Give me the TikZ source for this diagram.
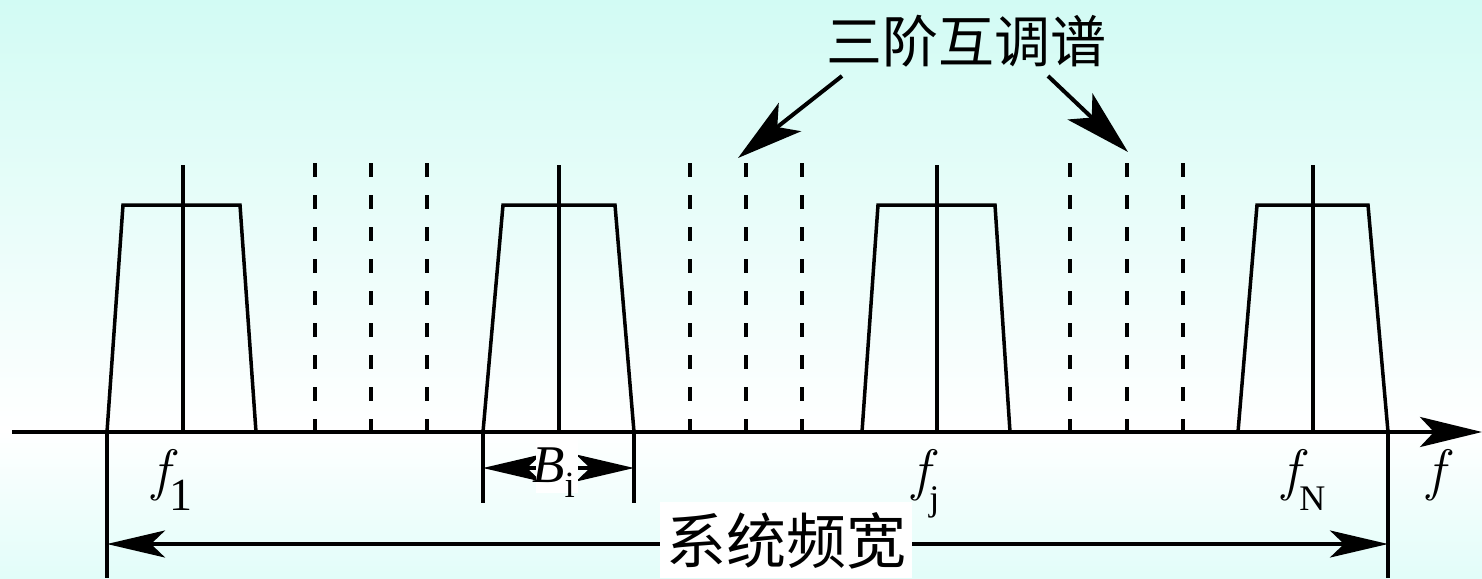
\documentclass[tikz,border=0pt]{standalone}
\usepackage{fontspec}
\setmainfont{Liberation Serif}
\newfontfamily\cjk{Noto Sans CJK SC}
\newfontfamily\lmr{Latin Modern Roman}
\usetikzlibrary{arrows.meta}
\definecolor{bgtop}{HTML}{D2FBF4}
\definecolor{bgbot}{HTML}{E2FDF9}
\newcommand\myfsym{{\lmr\fontsize{57}{60}\selectfont\itshape f}}
\newcommand\myfsub[2]{\myfsym{\fontsize{#2}{#2}\selectfont\raisebox{-21pt}{#1}}}
\begin{document}
\begin{tikzpicture}[x=1pt,y=-1pt,
  ln/.style={line width=3.5pt, line join=miter},
  dsh/.style={line width=3.6pt, dash pattern=on 14pt off 18pt},
  bigtip/.style={-{Stealth[length=62pt,width=30pt,inset=14pt]}},
  dimtip/.style={{Stealth[length=58pt,width=27pt,inset=14pt]}-{Stealth[length=58pt,width=27pt,inset=14pt]}},
  ttip/.style={-{Stealth[length=66pt,width=36pt,inset=16pt]}},
  cjklab/.style={font=\cjk\fontsize{56}{60}\selectfont, inner sep=0pt}]
\useasboundingbox (0,0) rectangle (1482,578);
\shade[top color=bgtop, bottom color=white] (0,0) rectangle (1482,430);
\shade[top color=white, bottom color=bgbot] (0,430) rectangle (1482,578);

% coordinates
\coordinate (ax0) at (12,432);
\coordinate (ax1) at (1482,432);

% trapezoids (channels)
\foreach \bl/\tl/\tr/\br/\c in {107/123/240/256/183, 483/503/615/634/559, 862/878/995/1010/937, 1238/1257/1368/1388/1313}{
  \draw[ln] (\bl,432) -- (\tl,205) -- (\tr,205) -- (\br,432);
  \draw[ln] (\c,165) -- (\c,432);
}

% intermodulation dashed lines
\foreach \x in {315,371,427,690,746,802,1070,1127,1183}{
  \draw[dsh] (\x,163) -- (\x,432);
}

% axis
\draw[line width=4pt, bigtip] (ax0) -- (ax1);

% dimension lines
\coordinate (s0) at (107,432); \coordinate (s0b) at (107,578);
\coordinate (s1) at (1388,432); \coordinate (s1b) at (1388,578);
\draw[ln] (s0) -- (s0b);
\draw[ln] (s1) -- (s1b);
\coordinate (b0) at (483,432); \coordinate (b0b) at (483,503);
\coordinate (b1) at (634,432); \coordinate (b1b) at (634,503);
\draw[ln] (b0) -- (b0b);
\draw[ln] (b1) -- (b1b);

\coordinate (sa0) at (107,544); \coordinate (sa1) at (1388,544);
\draw[line width=3.5pt, dimtip] (sa0) -- (sa1);
\coordinate (ba0) at (483,468); \coordinate (ba1) at (634,468);
\draw[line width=3.5pt, dimtip] (ba0) -- (ba1);

% labels
\node[fill=white, inner sep=0pt, minimum width=42pt, minimum height=56pt] (bbox) at (557,465) {};
\node[inner sep=0pt, anchor=base west] (blab) at (532,482) {{\fontsize{53}{56}\selectfont\itshape B}{\fontsize{37}{37}\selectfont\raisebox{-15pt}{i}}};

\node[fill=white, inner sep=0pt, minimum width=252pt, minimum height=76pt] (sysbox) at (786,540) {};
\node[cjklab, font=\cjk\fontsize{60}{62}\selectfont] (sys) at (786,541) {系统频宽};

\node[inner sep=0pt, anchor=base west] (f1) at (152,489) {\myfsub{1}{46}};
\node[inner sep=0pt, anchor=base west] (fj) at (912,489) {\myfsub{j}{36}};
\node[inner sep=0pt, anchor=base west] (fN) at (1282,489) {\myfsub{N}{36}};
\node[inner sep=0pt, anchor=base west] (fax) at (1427,489) {\myfsym};

% title and arrows
\node[cjklab] (title) at (966,41) {三阶互调谱};
\coordinate (t0s) at (842,76); \coordinate (t0e) at (738,158);
\coordinate (t1s) at (1048,76); \coordinate (t1e) at (1128,152);
\draw[line width=4pt, ttip] (t0s) -- (t0e);
\draw[line width=4pt, ttip] (t1s) -- (t1e);
\end{tikzpicture}
\end{document}
